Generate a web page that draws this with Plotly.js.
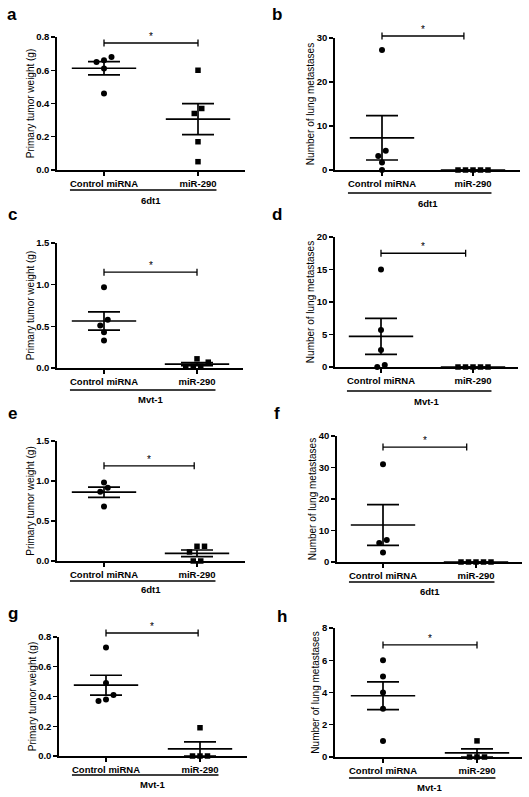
<!DOCTYPE html>
<html>
<head>
<meta charset="utf-8">
<script src="https://cdn.plot.ly/plotly-3.0.1.min.js"></script>
<style>html,body{margin:0;padding:0;background:#fff}#chart{width:529px;height:797px}</style>
</head>
<body>
<div id="chart"></div>
<script>
// ---------------- DATA ----------------
const categories = ['Control miRNA', 'miR-290'];
const panelLetters = ['a', 'b', 'c', 'd', 'e', 'f', 'g', 'h'];
const cellLines = ['6dt1', '6dt1', 'Mvt-1', 'Mvt-1', '6dt1', '6dt1', 'Mvt-1', 'Mvt-1'];
const yTitles = [
  'Primary tumor weight (g)', 'Number of lung metastases',
  'Primary tumor weight (g)', 'Number of lung metastases',
  'Primary tumor weight (g)', 'Number of lung metastases',
  'Primary tumor weight (g)', 'Number of lung metastases'
];

const control_a = [0.66, 0.65, 0.68, 0.61, 0.46];
const mir_a     = [0.60, 0.37, 0.34, 0.17, 0.05];
const control_b = [27.3, 4.4, 3.2, 1.7, 0];
const mir_b     = [0, 0, 0, 0, 0];
const control_c = [0.97, 0.58, 0.51, 0.43, 0.33];
const mir_c     = [0.11, 0.07, 0.02, 0.02, 0.01];
const control_d = [15, 5.7, 2.6, 0.3, 0];
const mir_d     = [0, 0, 0, 0, 0];
const control_e = [0.98, 0.915, 0.865, 0.68];
const mir_e     = [0.184, 0.184, 0.113, 0, 0];
const control_f = [31, 7, 6, 3];
const mir_f     = [0, 0, 0, 0, 0];
const control_g = [0.73, 0.49, 0.41, 0.37, 0.38];
const mir_g     = [0.19, 0, 0, 0];
const control_h = [6, 5, 4, 3, 1];
const mir_h     = [1, 0, 0, 0];

const yTicks_a = [0, 0.2, 0.4, 0.6, 0.8];
const yTicks_b = [0, 10, 20, 30];
const yTicks_c = [0, 0.5, 1.0, 1.5];
const yTicks_d = [0, 5, 10, 15, 20];
const yTicks_e = [0, 0.5, 1.0, 1.5];
const yTicks_f = [0, 10, 20, 30, 40];
const yTicks_g = [0, 0.2, 0.4, 0.6, 0.8];
const yTicks_h = [0, 2, 4, 6, 8];

const bracketHeights = [0.764, 30.45, 1.15, 17.5, 1.19, 36.5, 0.827, 6.95];
const sigLabels = ['*', '*', '*', '*', '*', '*', '*', '*'];

// ---------------- LAYOUT / STYLE ----------------
const W = 529, H = 797;
const FONT = 'Arial, "Liberation Sans", sans-serif';
const controls = [control_a, control_b, control_c, control_d, control_e, control_f, control_g, control_h];
const mirs = [mir_a, mir_b, mir_c, mir_d, mir_e, mir_f, mir_g, mir_h];
const yTicks = [yTicks_a, yTicks_b, yTicks_c, yTicks_d, yTicks_e, yTicks_f, yTicks_g, yTicks_h];
const tickFormats = ['.1f', 'd', '.1f', 'd', '.1f', 'd', '.1f', 'd'];

// pixel geometry of each panel: axis left/right, category centres, baseline, top tick
const geom = [
  {L: 57,  R: 245, c0: 104, c1: 198, B: 170, T: 37,  bEnd: 1.0,  lineOff: 20, labOff: 30, lx: 11.5, ly: 14},
  {L: 335, R: 520, c0: 382, c1: 473, B: 170, T: 38,  bEnd: 0.90, lineOff: 23, labOff: 33, lx: 277,  ly: 14},
  {L: 57,  R: 243, c0: 104, c1: 197, B: 368, T: 243, bEnd: 1.0,  lineOff: 22, labOff: 32, lx: 12,   ly: 214},
  {L: 335, R: 518, c0: 381, c1: 473, B: 367, T: 237, bEnd: 0.92, lineOff: 24, labOff: 34, lx: 277,  ly: 214},
  {L: 57,  R: 245, c0: 104, c1: 197, B: 561, T: 441, bEnd: 0.97, lineOff: 20, labOff: 29, lx: 12,   ly: 413},
  {L: 337, R: 522, c0: 383, c1: 476, B: 562, T: 436, bEnd: 0.90, lineOff: 20, labOff: 29, lx: 277,  ly: 413},
  {L: 59,  R: 247, c0: 106, c1: 200, B: 756, T: 637, bEnd: 0.98, lineOff: 19, labOff: 28, lx: 12.5, ly: 613},
  {L: 335, R: 522, c0: 383, c1: 477, B: 757, T: 628, bEnd: 1.0,  lineOff: 21, labOff: 30, lx: 282,  ly: 616}
];

function mean(a) { return a.reduce((s, v) => s + v, 0) / a.length; }
function sem(a) {
  const m = mean(a);
  const v = a.reduce((s, x) => s + (x - m) * (x - m), 0) / (a.length - 1);
  return Math.sqrt(v) / Math.sqrt(a.length);
}

const ctx = document.createElement('canvas').getContext('2d');
ctx.font = 'bold 9.5px Arial, "Liberation Sans", sans-serif';
function tw(s) { return ctx.measureText(s).width; }

// simple scatter-dot spreading (points that overlap vertically are spread in a row)
function spread(vals, pxPerVal, ppu) {
  const idx = vals.map((v, i) => i).sort((i, j) => vals[i] - vals[j]);
  const rows = [];
  let cur = null;
  idx.forEach(i => {
    const h = vals[i] * pxPerVal;
    if (cur && h - cur.start < 6) cur.items.push(i);
    else { cur = {start: h, items: [i]}; rows.push(cur); }
  });
  const off = new Array(vals.length).fill(0);
  rows.forEach(r => {
    const n = r.items.length;
    r.items.forEach((i, k) => { off[i] = (k - (n - 1) / 2) * 7.5 / ppu; });
  });
  return off;
}

const traces = [];
const layout = {
  width: W, height: H,
  margin: {l: 0, r: 0, t: 0, b: 0},
  paper_bgcolor: '#fff', plot_bgcolor: 'rgba(0,0,0,0)',
  showlegend: false,
  font: {family: FONT, color: '#000'},
  shapes: [], annotations: []
};

for (let i = 0; i < 8; i++) {
  const g = geom[i];
  const s = i === 0 ? '' : String(i + 1);
  const xa = 'x' + s, ya = 'y' + s;
  const ppu = g.c1 - g.c0;
  const ticks = yTicks[i];
  const top = ticks[ticks.length - 1];
  const pxPerVal = (g.B - g.T) / top;

  layout['xaxis' + s] = {
    domain: [g.L / W, g.R / W],
    range: [(g.L - g.c0) / ppu, (g.R - g.c0) / ppu],
    anchor: ya,
    tickmode: 'array', tickvals: [0, 1], ticktext: categories,
    ticks: 'outside', ticklen: 4, tickwidth: 1.3, tickcolor: '#000',
    showline: true, linewidth: 1.7, linecolor: '#000',
    showgrid: false, zeroline: false, fixedrange: true,
    tickfont: {family: FONT, size: 9.5, weight: 'bold', color: '#000'}
  };
  layout['yaxis' + s] = {
    domain: [1 - g.B / H, 1 - g.T / H],
    range: [0, top],
    anchor: xa,
    tickmode: 'array', tickvals: ticks, tickformat: tickFormats[i],
    ticks: 'outside', ticklen: 4, tickwidth: 1.3, tickcolor: '#000',
    showline: true, linewidth: 1.7, linecolor: '#000',
    showgrid: false, zeroline: false, fixedrange: true,
    tickfont: {family: FONT, size: 9.5, weight: 'bold', color: '#000'},
    title: {text: yTitles[i], font: {family: FONT, size: 10, color: '#000'}, standoff: 0}
  };

  const cVals = controls[i], mVals = mirs[i];
  const cOff = spread(cVals, pxPerVal, ppu);
  const mOff = spread(mVals, pxPerVal, ppu);

  traces.push({
    type: 'scatter', mode: 'markers', xaxis: xa, yaxis: ya, cliponaxis: false,
    x: cOff.map(o => 0 + o), y: cVals,
    marker: {symbol: 'circle', size: 6, color: '#000'}, hoverinfo: 'y'
  });
  traces.push({
    type: 'scatter', mode: 'markers', xaxis: xa, yaxis: ya, cliponaxis: false,
    x: mOff.map(o => 1 + o), y: mVals,
    marker: {symbol: 'square', size: 5.5, color: '#000'}, hoverinfo: 'y'
  });
  // mean +/- SEM
  traces.push({
    type: 'scatter', mode: 'markers', xaxis: xa, yaxis: ya, cliponaxis: false,
    x: [0, 1], y: [mean(cVals), mean(mVals)],
    marker: {symbol: 'line-ew', size: 46, color: '#000', line: {width: 1.7, color: '#000'}},
    error_y: {type: 'data', array: [sem(cVals), sem(mVals)], visible: true,
              width: 16, thickness: 1.7, color: '#000'},
    hoverinfo: 'y'
  });

  // significance bracket (height given in data units, converted to the axis' domain fraction)
  const by = bracketHeights[i] / top;
  const yd = ya + ' domain';
  layout.shapes.push({type: 'line', xref: xa, yref: yd, x0: 0, x1: g.bEnd, y0: by, y1: by,
                      line: {width: 1.3, color: '#000'}});
  [0, g.bEnd].forEach(xx => {
    layout.shapes.push({type: 'line', xref: xa, yref: yd, ysizemode: 'pixel', yanchor: by,
                        x0: xx, x1: xx, y0: -3.5, y1: 3.5, line: {width: 1.3, color: '#000'}});
  });
  layout.annotations.push({xref: xa, yref: yd, x: g.bEnd / 2, y: by, text: sigLabels[i],
                           showarrow: false, xanchor: 'center', yanchor: 'bottom', yshift: -1,
                           font: {family: FONT, size: 10, color: '#000'}});
  // group line + cell line label
  const gx0 = -tw(categories[0]) / 2 / ppu;
  const gx1 = 1 + tw(categories[1]) / 2 / ppu;
  layout.shapes.push({type: 'line', xref: xa, yref: yd, ysizemode: 'pixel', yanchor: 0,
                      x0: gx0, x1: gx1, y0: -g.lineOff, y1: -g.lineOff,
                      line: {width: 1.3, color: '#000'}});
  layout.annotations.push({xref: xa, yref: yd, x: 0.5, y: 0, yshift: -g.labOff,
                           text: cellLines[i], showarrow: false, xanchor: 'center', yanchor: 'middle',
                           font: {family: FONT, size: 9.5, weight: 'bold', color: '#000'}});
  // panel letter
  layout.annotations.push({xref: 'paper', yref: 'paper', x: g.lx / W, y: 1 - g.ly / H,
                           text: panelLetters[i], showarrow: false, xanchor: 'center', yanchor: 'middle',
                           font: {family: FONT, size: 17, weight: 'bold', color: '#000'}});
}

Plotly.newPlot('chart', traces, layout, {staticPlot: true, displayModeBar: false});
</script>
</body>
</html>
